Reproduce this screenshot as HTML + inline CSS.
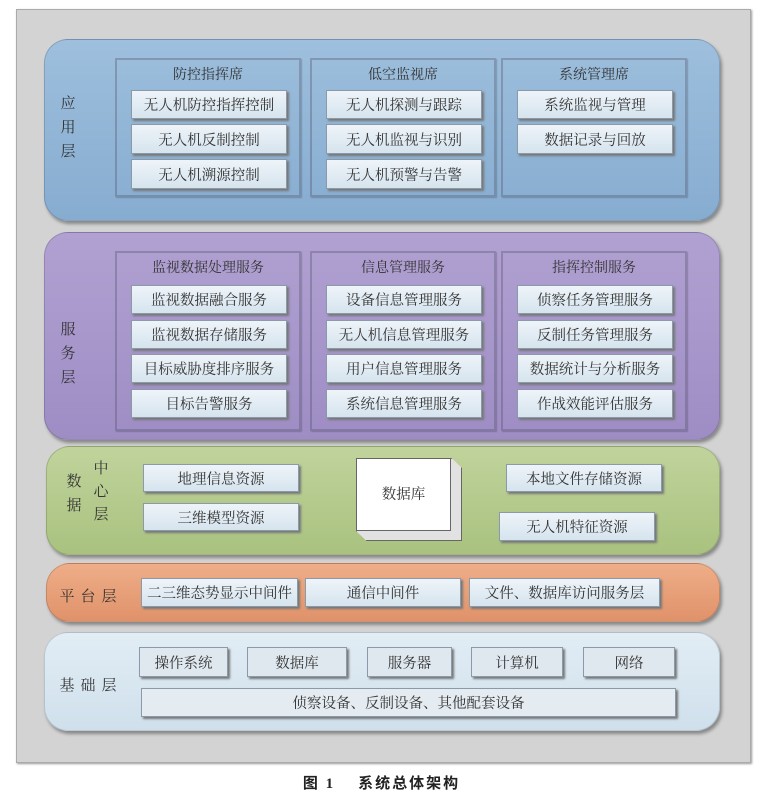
<!DOCTYPE html>
<html><head><meta charset="utf-8"><style>
body{margin:0;width:763px;height:798px;background:#fff;position:relative;overflow:hidden;font-family:"Liberation Serif","Noto Serif CJK SC",serif;color:#333}
div{position:absolute;box-sizing:border-box}
.outer{left:16px;top:9px;width:735px;height:754px;background:#d3d3d3;border:1px solid #aaa;box-shadow:1px 1px 2px #999}
.layer{border-radius:24px;box-shadow:2px 3px 3px #888;border:1px solid rgba(0,0,0,.15)}
.grp{border:2px solid rgba(80,80,100,.35);box-shadow:1px 1px 1px rgba(0,0,0,.2)}
.gt{font-size:14px;text-align:center;width:100%;top:4px}
.b{background:linear-gradient(#eef4f9,#d6e4ee);border:1px solid #8a9aa8;box-shadow:2px 2px 2px #777;font-size:14.5px;text-align:center;color:#333;display:flex;align-items:center;justify-content:center}
.lab{font-size:15px;line-height:24px;text-align:center}
</style></head><body>
<div class="outer"></div>

<div class="layer" style="left:44px;top:39px;width:676px;height:182px;background:linear-gradient(#9ebfdd,#86acd0)"></div>
<div class="lab" style="left:58px;top:92px;width:20px">应<br>用<br>层</div>
<div class="grp" style="left:115px;top:58px;width:186px;height:139px"><div class="gt">防控指挥席</div></div>
<div class="grp" style="left:310px;top:58px;width:186px;height:139px"><div class="gt">低空监视席</div></div>
<div class="grp" style="left:501px;top:58px;width:186px;height:139px"><div class="gt">系统管理席</div></div>
<div class="b" style="left:131px;top:90px;width:156px;height:29px">无人机防控指挥控制</div>
<div class="b" style="left:131px;top:124px;width:156px;height:30px">无人机反制控制</div>
<div class="b" style="left:131px;top:159px;width:156px;height:30px">无人机溯源控制</div>
<div class="b" style="left:326px;top:90px;width:156px;height:29px">无人机探测与跟踪</div>
<div class="b" style="left:326px;top:124px;width:156px;height:30px">无人机监视与识别</div>
<div class="b" style="left:326px;top:159px;width:156px;height:30px">无人机预警与告警</div>
<div class="b" style="left:517px;top:90px;width:156px;height:29px">系统监视与管理</div>
<div class="b" style="left:517px;top:124px;width:156px;height:30px">数据记录与回放</div>

<div class="layer" style="left:44px;top:232px;width:676px;height:208px;background:linear-gradient(#b1a1d2,#9e8dc4)"></div>
<div class="lab" style="left:58px;top:318px;width:20px">服<br>务<br>层</div>
<div class="grp" style="left:115px;top:251px;width:186px;height:180px"><div class="gt">监视数据处理服务</div></div>
<div class="grp" style="left:310px;top:251px;width:186px;height:180px"><div class="gt">信息管理服务</div></div>
<div class="grp" style="left:501px;top:251px;width:186px;height:180px"><div class="gt">指挥控制服务</div></div>
<div class="b" style="left:131px;top:285px;width:156px;height:29px">监视数据融合服务</div>
<div class="b" style="left:131px;top:320px;width:156px;height:29px">监视数据存储服务</div>
<div class="b" style="left:131px;top:354px;width:156px;height:29px">目标威胁度排序服务</div>
<div class="b" style="left:131px;top:389px;width:156px;height:29px">目标告警服务</div>
<div class="b" style="left:326px;top:285px;width:156px;height:29px">设备信息管理服务</div>
<div class="b" style="left:326px;top:320px;width:156px;height:29px">无人机信息管理服务</div>
<div class="b" style="left:326px;top:354px;width:156px;height:29px">用户信息管理服务</div>
<div class="b" style="left:326px;top:389px;width:156px;height:29px">系统信息管理服务</div>
<div class="b" style="left:517px;top:285px;width:156px;height:29px">侦察任务管理服务</div>
<div class="b" style="left:517px;top:320px;width:156px;height:29px">反制任务管理服务</div>
<div class="b" style="left:517px;top:354px;width:156px;height:29px">数据统计与分析服务</div>
<div class="b" style="left:517px;top:389px;width:156px;height:29px">作战效能评估服务</div>

<div class="layer" style="left:46px;top:446px;width:674px;height:109px;background:linear-gradient(#c0d39c,#a9c27f)"></div>
<div class="lab" style="left:64px;top:470px;width:20px">数<br>据</div>
<div class="lab" style="left:91px;top:458px;width:20px;line-height:23px">中<br>心<br>层</div>
<div class="b" style="left:143px;top:464px;width:156px;height:28px">地理信息资源</div>
<div class="b" style="left:143px;top:503px;width:156px;height:28px">三维模型资源</div>
<div style="left:356px;top:458px;width:106px;height:83px;background:#e2e2e2;border:1px solid #666;clip-path:polygon(0 0,90% 0,100% 12%,100% 100%,10% 100%,0 88%)"></div>
<div style="left:356px;top:458px;width:95px;height:73px;background:#fff;border:1px solid #666;font-size:14.5px;text-align:center;padding-top:24px">数据库</div>
<div class="b" style="left:506px;top:464px;width:156px;height:28px">本地文件存储资源</div>
<div class="b" style="left:499px;top:512px;width:156px;height:29px">无人机特征资源</div>

<div class="layer" style="left:46px;top:563px;width:674px;height:59px;background:linear-gradient(#eeae88,#e0926a)"></div>
<div class="lab" style="left:56px;top:585px;width:70px;letter-spacing:6px">平台层</div>
<div class="b" style="left:141px;top:578px;width:157px;height:29px">二三维态势显示中间件</div>
<div class="b" style="left:305px;top:578px;width:156px;height:29px">通信中间件</div>
<div class="b" style="left:469px;top:578px;width:191px;height:29px">文件、数据库访问服务层</div>

<div class="layer" style="left:44px;top:632px;width:676px;height:99px;background:linear-gradient(#e2edf5,#cfe0ec)"></div>
<div class="lab" style="left:56px;top:674px;width:70px;letter-spacing:6px">基础层</div>
<div class="b" style="left:139px;top:647px;width:89px;height:30px;background:#dfe8ef">操作系统</div>
<div class="b" style="left:247px;top:647px;width:100px;height:30px;background:#dfe8ef">数据库</div>
<div class="b" style="left:367px;top:647px;width:85px;height:30px;background:#dfe8ef">服务器</div>
<div class="b" style="left:471px;top:647px;width:92px;height:30px;background:#dfe8ef">计算机</div>
<div class="b" style="left:583px;top:647px;width:92px;height:30px;background:#dfe8ef">网络</div>
<div class="b" style="left:141px;top:688px;width:535px;height:29px;background:#e4ecf2">侦察设备、反制设备、其他配套设备</div>

<div style="left:0;top:772px;width:763px;text-align:center;font-size:15px;font-weight:bold;color:#222;letter-spacing:2px;font-family:'Liberation Serif','Noto Sans CJK SC',sans-serif">图 1&nbsp;&nbsp;&nbsp;&nbsp;系统总体架构</div>
</body></html>
